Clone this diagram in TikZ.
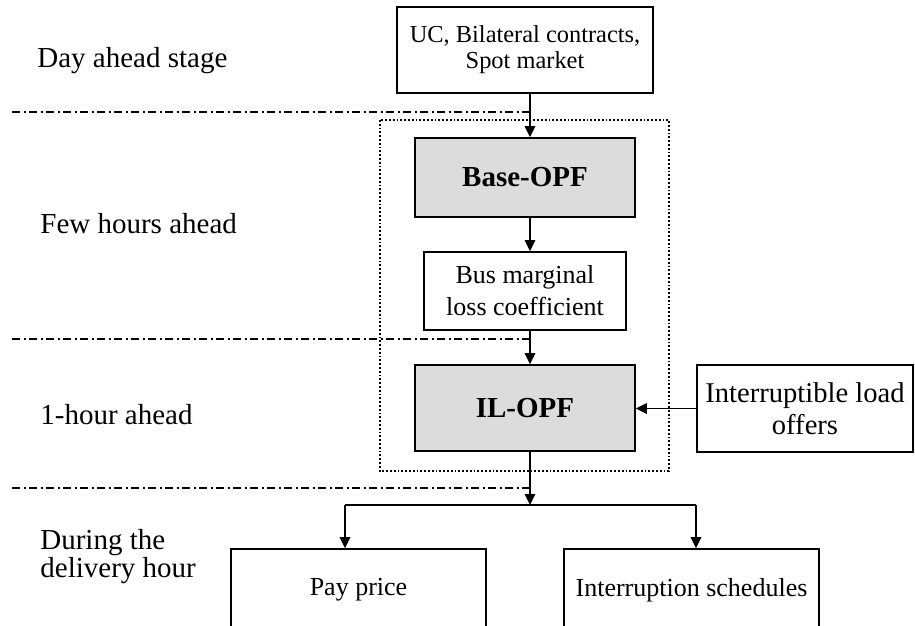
\documentclass[tikz,border=0pt]{standalone}
\usepackage{fontspec}
\setmainfont{Liberation Serif}
\usepackage{tikz}
\usetikzlibrary{arrows.meta}
\definecolor{optgray}{RGB}{220,220,220}

\begin{document}
\begin{tikzpicture}[x=0.5pt,y=-0.5pt,
	box/.style={draw,line width=0.8pt,rectangle,inner sep=0pt,align=center},
	optbox/.style={box,fill=optgray,font=\fontsize{14.5}{17}\selectfont\bfseries},
	flow/.style={line width=0.8pt,-{Triangle[length=5.5pt,width=5.2pt]}},
	stageline/.style={line width=1pt,dash pattern=on 4.2pt off 1.6pt on 1.1pt off 1.6pt},
	stagelabel/.style={anchor=base west,inner sep=0pt,align=left,font=\fontsize{14.5}{14}\selectfont}]
	\useasboundingbox (0,0) rectangle (915,626);
	% boxes
	\node[box,minimum width=128pt,minimum height=43pt,font=\fontsize{12.2}{13}\selectfont] (uc) at (525,50) {UC, Bilateral contracts,\\Spot market};
	\node[optbox,minimum width=110pt,minimum height=39.5pt] (base) at (525,177.5) {Base-OPF};
	\node[box,minimum width=101pt,minimum height=39pt,font=\fontsize{13}{16}\selectfont] (bus) at (525,291) {Bus marginal\\loss coefficient};
	\node[optbox,minimum width=110pt,minimum height=43pt] (il) at (525,408) {IL-OPF};
	\node[box,minimum width=108pt,minimum height=43.5pt,font=\fontsize{14.3}{16}\selectfont] (offers) at (805,408.5) {Interruptible load\\offers};
	\node[box,minimum width=127.5pt,minimum height=41pt,font=\fontsize{13}{16}\selectfont] (pay) at (358.5,590) {Pay price};
	\node[box,minimum width=127.5pt,minimum height=41pt,font=\fontsize{13}{16}\selectfont] (sched) at (691.5,590) {Interruption schedules};
	% stages
	\node[stagelabel] (day) at (37,68) {Day ahead stage};
	\node[stagelabel] (few) at (40,233) {Few hours ahead};
	\node[stagelabel] (hour) at (40,424) {1-hour ahead};
	\node[stagelabel] (deliv) at (40,577) {During the\\delivery hour};
	\coordinate (ax) at (530,0);
	\coordinate (left) at (12,0);
	\foreach \y in {112,339,488}
		\draw[stageline] (left |- 0,\y) -- (ax |- 0,\y);
	\draw[line width=0.9pt,densely dotted] (380,120) rectangle (669,471);
	% arrows
	\draw[flow] (uc.south -| ax) -- (base.north -| ax);
	\draw[flow] (base.south -| ax) -- (bus.north -| ax);
	\draw[flow] (bus.south -| ax) -- (il.north -| ax);
	\draw[flow] (offers.west) -- (il.east |- offers.west);
	\coordinate (split) at (530,505);
	\coordinate (lb) at (345,505);
	\coordinate (rb) at (696,505);
	\draw[flow] (il.south -| ax) -- (split);
	\draw[line width=0.8pt] (lb) -- (rb);
	\draw[flow] (lb) -- (pay.north -| lb);
	\draw[flow] (rb) -- (sched.north -| rb);
\end{tikzpicture}
\end{document}
